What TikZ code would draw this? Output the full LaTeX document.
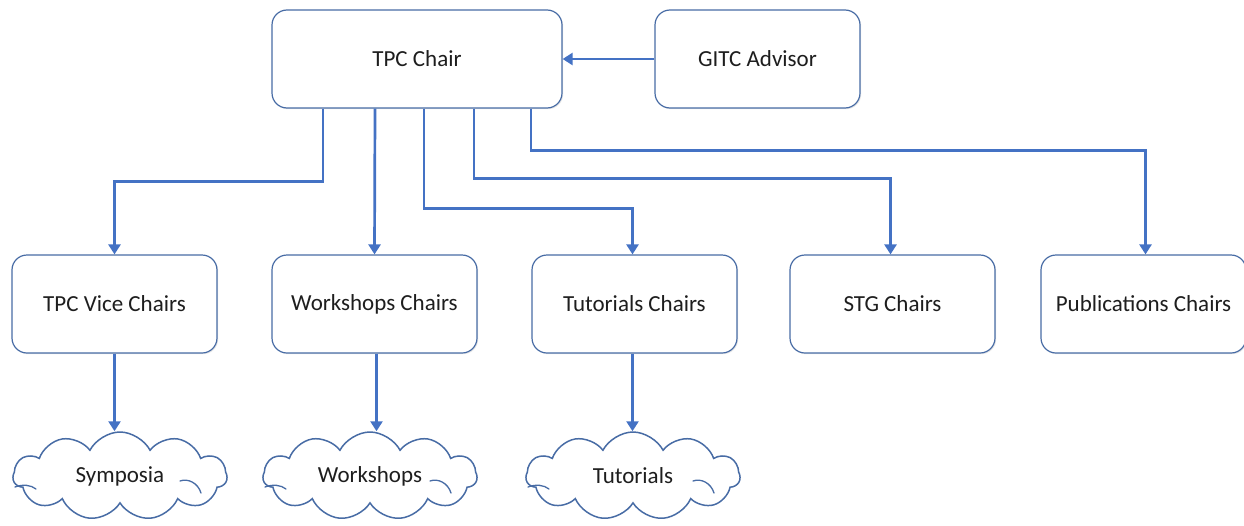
\documentclass[tikz,border=0pt]{standalone}
\usepackage{fontspec}
\setmainfont{Carlito}
\usetikzlibrary{arrows.meta,shapes.symbols,shadows}
\definecolor{linkblue}{RGB}{68,114,196}
\definecolor{edgeblue}{RGB}{72,108,165}
\definecolor{textgray}{RGB}{30,30,30}
\tikzset{
  box/.style={draw=edgeblue, line width=1.2pt, rounded corners=15pt, fill=white,
    minimum width=205pt, minimum height=98pt, inner sep=0pt,
    font=\fontsize{23}{27}\selectfont, text=textgray,
    drop shadow={shadow xshift=1.2pt, shadow yshift=-1.2pt, opacity=0.18}},
  topbox/.style={box, minimum width=290pt},
  puff/.style={cloud, cloud puffs=11, cloud puff arc=125, aspect=2.4,
    draw=edgeblue, line width=1.5pt, fill=white, inner sep=0pt,
    minimum width=214pt, minimum height=88pt,
    font=\fontsize{23}{27}\selectfont, text=textgray},
  puffline/.style={draw=edgeblue, line width=1.3pt, line cap=round},
  conn/.style={draw=linkblue, line width=2.7pt,
    -{Triangle[width=12pt,length=10pt]}},
}
\begin{document}
\begin{tikzpicture}[x=1pt,y=-1pt]
  \useasboundingbox (0,0) rectangle (1244,525);

  % top row
  \node[topbox] (tpc)  at (417,59)  {TPC Chair};
  \node[box]    (gitc) at (757.5,59) {GITC Advisor};

  % chairs row
  \node[box] (vice) at (114.5,304)  {TPC Vice Chairs};
  \node[box] (wsc)  at (374.5,304)  {Workshops Chairs};
  \node[box] (tuc)  at (634.5,304)  {Tutorials Chairs};
  \node[box] (stg)  at (892.5,304)  {STG Chairs};
  \node[box] (pub)  at (1143.5,304) {Publications Chairs};

  % programme clouds
  \node[puff] (symp) at (120,476) {Symposia};
  \node[puff] (wks)  at (370,476) {Workshops};
  \node[puff] (tut)  at (633,476) {Tutorials};

  % inner fold lines of the clouds
  \foreach \c in {symp,wks,tut} {
    \begin{scope}[shift={(\c.center)}]
      \draw[puffline] (-105,11) .. controls (-97,8) and (-89,9) .. (-84,13);
      \draw[puffline] (60,5) .. controls (68,2) and (78,7) .. (81,17);
    \end{scope}
  }

  % advisor link
  \draw[conn] (gitc.west) -- (tpc.east);

  % chair links
  \draw[conn] ([xshift=-94pt]tpc.south) -- ++(0,73) -| (vice.north);
  \draw[conn] ([xshift=-42pt]tpc.south) -- (wsc.north);
  \draw[conn] ([xshift=7pt]tpc.south) -- ++(0,100) -| ([xshift=-2pt]tuc.north);
  \draw[conn] ([xshift=57pt]tpc.south) -- ++(0,70) -| ([xshift=-2pt]stg.north);
  \draw[conn] ([xshift=114pt]tpc.south) -- ++(0,42) -| ([xshift=2pt]pub.north);

  % programme links
  \draw[conn] (vice.south) -- (vice.south |- symp.north);
  \draw[conn] ([xshift=2pt]wsc.south) -- ([xshift=2pt]wsc.south |- wks.north);
  \draw[conn] ([xshift=-2pt]tuc.south) -- ([xshift=-2pt]tuc.south |- tut.north);
\end{tikzpicture}
\end{document}
